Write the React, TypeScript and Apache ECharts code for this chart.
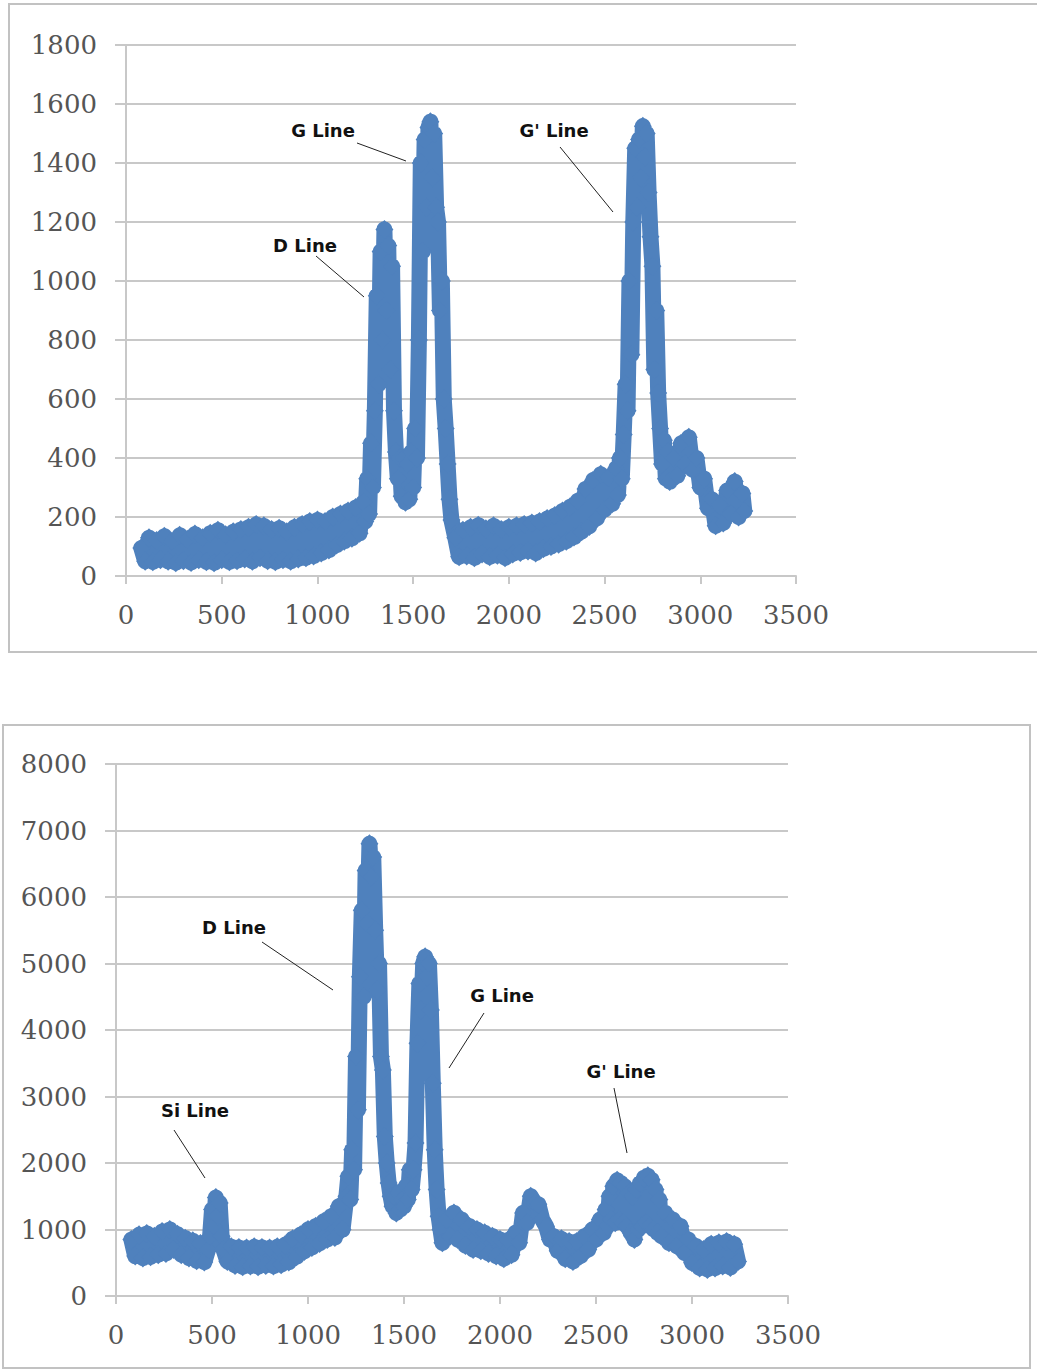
import React, { useEffect, useRef } from "react";
import * as echarts from "echarts";

// Raman spectrum 1: shift (cm-1) and intensity (counts)
const TOP_SHIFT = [
  80, 100, 120, 140, 160, 180, 200, 220, 240, 260,
  280, 300, 320, 340, 360, 380, 400, 420, 440, 460,
  480, 500, 520, 540, 560, 580, 600, 620, 640, 660,
  680, 700, 720, 740, 760, 780, 800, 820, 840, 860,
  880, 900, 920, 940, 960, 980, 1000, 1020, 1040, 1060,
  1080, 1100, 1120, 1140, 1160, 1180, 1200, 1220, 1240, 1250,
  1260, 1270, 1280, 1290, 1300, 1310, 1320, 1330, 1340, 1350,
  1360, 1370, 1380, 1390, 1400, 1410, 1420, 1430, 1440, 1450,
  1460, 1470, 1480, 1490, 1500, 1510, 1520, 1530, 1540, 1550,
  1560, 1570, 1580, 1590, 1600, 1610, 1620, 1630, 1640, 1650,
  1660, 1670, 1680, 1690, 1700, 1720, 1740, 1760, 1780, 1800,
  1820, 1840, 1860, 1880, 1900, 1920, 1940, 1960, 1980, 2000,
  2020, 2040, 2060, 2080, 2100, 2120, 2140, 2160, 2180, 2200,
  2220, 2240, 2260, 2280, 2300, 2320, 2340, 2360, 2380, 2400,
  2420, 2440, 2460, 2480, 2500, 2520, 2540, 2560, 2570, 2580,
  2590, 2600, 2610, 2620, 2630, 2640, 2650, 2660, 2670, 2680,
  2690, 2700, 2710, 2720, 2730, 2740, 2750, 2760, 2770, 2780,
  2790, 2800, 2810, 2820, 2830, 2840, 2860, 2880, 2900, 2920,
  2940, 2960, 2980, 3000, 3020, 3040, 3060, 3080, 3100, 3120,
  3140, 3160, 3180, 3200, 3220, 3230,
];
const TOP_COUNTS = [
  95, 50, 130, 48, 120, 55, 135, 50, 118, 45,
  138, 52, 125, 46, 142, 55, 130, 48, 145, 45,
  155, 55, 140, 48, 150, 52, 158, 58, 165, 50,
  175, 62, 170, 52, 158, 48, 162, 55, 150, 50,
  165, 58, 175, 62, 185, 68, 190, 78, 185, 88,
  200, 105, 210, 118, 220, 128, 232, 145, 250, 185,
  330, 210, 450, 300, 560, 950, 650, 1100, 800, 1175,
  900, 1120, 700, 1050, 560, 420, 330, 400, 270, 400,
  250, 380, 260, 420, 300, 500, 400, 800, 1400, 1100,
  1480, 1250, 1520, 1540, 1350, 1500, 1250, 1200, 900, 1000,
  600, 500, 380, 260, 190, 130, 65, 155, 68, 165,
  62, 172, 75, 160, 65, 170, 70, 158, 62, 165,
  75, 170, 80, 175, 85, 180, 78, 185, 92, 195,
  100, 205, 108, 220, 118, 235, 132, 255, 150, 295,
  168, 325, 195, 345, 225, 335, 245, 365, 275, 400,
  330, 480, 650, 560, 1000, 750, 1200, 1450, 1250, 1480,
  1350, 1525, 1420, 1500, 1300, 1150, 1050, 700, 900, 620,
  500, 380, 460, 330, 420, 320, 400, 340, 450, 380,
  470, 360, 400, 300, 330, 230, 260, 170, 240, 180,
  290, 210, 320, 200, 280, 220,
];

// Raman spectrum 2: shift (cm-1) and intensity (counts)
const BOTTOM_SHIFT = [
  80, 100, 120, 140, 160, 180, 200, 220, 240, 260,
  280, 300, 320, 340, 360, 380, 400, 420, 440, 460,
  480, 490, 500, 510, 520, 530, 540, 550, 560, 580,
  600, 620, 640, 660, 680, 700, 720, 740, 760, 780,
  800, 820, 840, 860, 880, 900, 920, 940, 960, 980,
  1000, 1020, 1040, 1060, 1080, 1100, 1120, 1140, 1160, 1180,
  1200, 1210, 1220, 1230, 1240, 1250, 1260, 1270, 1280, 1290,
  1300, 1310, 1320, 1330, 1340, 1350, 1360, 1370, 1380, 1390,
  1400, 1410, 1420, 1430, 1440, 1450, 1460, 1470, 1480, 1490,
  1500, 1510, 1520, 1530, 1540, 1550, 1560, 1570, 1580, 1590,
  1600, 1610, 1620, 1630, 1640, 1650, 1660, 1670, 1680, 1690,
  1700, 1720, 1740, 1760, 1780, 1800, 1820, 1840, 1860, 1880,
  1900, 1920, 1940, 1960, 1980, 2000, 2020, 2040, 2060, 2080,
  2100, 2120, 2140, 2160, 2180, 2200, 2220, 2240, 2260, 2280,
  2300, 2320, 2340, 2360, 2380, 2400, 2420, 2440, 2460, 2480,
  2500, 2520, 2540, 2550, 2560, 2570, 2580, 2590, 2600, 2610,
  2620, 2630, 2640, 2650, 2660, 2670, 2680, 2690, 2700, 2710,
  2720, 2730, 2740, 2750, 2760, 2770, 2780, 2790, 2800, 2810,
  2820, 2830, 2840, 2860, 2880, 2900, 2920, 2940, 2960, 2980,
  3000, 3020, 3040, 3060, 3080, 3100, 3120, 3140, 3160, 3180,
  3200, 3220, 3240,
];
const BOTTOM_COUNTS = [
  850, 600, 920, 570, 940, 590, 900, 620, 970, 640,
  1000, 700, 930, 620, 870, 570, 830, 530, 790, 510,
  700, 900, 1300, 1050, 1480, 1200, 1400, 900, 700, 520,
  740, 460, 730, 440, 720, 450, 740, 440, 730, 460,
  720, 450, 740, 470, 770, 510, 860, 590, 920, 670,
  1000, 730, 1050, 790, 1120, 850, 1200, 880, 1350, 1000,
  1500, 1800, 1450, 2200, 1900, 3600, 2800, 4800, 5800, 4500,
  6400, 5600, 6800, 6300, 6600, 5500, 4600, 5000, 3600, 3400,
  2400, 2000, 1700, 1500, 1350, 1500, 1250, 1550, 1300, 1450,
  1350, 1650, 1450, 1900, 1600, 1900, 2300, 3800, 4700, 4300,
  5000, 5100, 4800, 5000, 4300, 3200, 2200, 1600, 1200, 1000,
  800, 1150, 900, 1250, 850, 1150, 760, 1050, 700, 1000,
  680, 950, 640, 900, 600, 850, 560, 840, 620, 950,
  800, 1250, 1100, 1500, 1400, 1380, 1150, 1050, 850, 900,
  680, 860, 560, 820, 520, 820, 600, 900, 700, 1000,
  850, 1150, 950, 1300, 1050, 1500, 1150, 1650, 1100, 1740,
  1150, 1700, 1100, 1650, 1050, 1550, 950, 1500, 850, 1600,
  1000, 1700, 1050, 1780, 1100, 1810, 1050, 1750, 1000, 1600,
  950, 1450, 900, 1250, 800, 1150, 750, 1050, 650, 850,
  500, 750, 420, 700, 400, 780, 420, 800, 450, 820,
  430, 780, 520,
];

// Axis ranges and tick steps
const X_MAX = 3500;
const X_STEP = 500;
const TOP_Y_MAX = 1800;
const TOP_Y_STEP = 200;
const BOTTOM_Y_MAX = 8000;
const BOTTOM_Y_STEP = 1000;

const MARKER_BLUE = "#4F81BD";
const GRID_GREY = "#C8C8C8";
const LABEL_GREY = "#555555";
const TICK_FONT = "DejaVu Serif";
const TICK_SIZE = 26;
const NOTE_FONT = 'bold 18px "DejaVu Sans"';

const pairs = (xs: number[], ys: number[]) => xs.map((x, i) => [x, ys[i]]);
const plain = (v: number) => String(v);

const xAxisFor = (gridIndex: number) => ({
  type: "value",
  gridIndex,
  min: 0,
  max: X_MAX,
  interval: X_STEP,
  axisLine: { show: true, onZero: false, lineStyle: { color: GRID_GREY, width: 2 } },
  axisTick: { show: true, inside: false, length: 8, lineStyle: { color: GRID_GREY, width: 2 } },
  splitLine: { show: false },
  axisLabel: { margin: 26, color: LABEL_GREY, fontFamily: TICK_FONT, fontSize: TICK_SIZE, formatter: plain },
});

const yAxisFor = (gridIndex: number, max: number, step: number) => ({
  type: "value",
  gridIndex,
  min: 0,
  max,
  interval: step,
  axisLine: { show: true, lineStyle: { color: GRID_GREY, width: 2 } },
  axisTick: { show: true, inside: false, length: 11, lineStyle: { color: GRID_GREY, width: 2 } },
  splitLine: { show: true, lineStyle: { color: GRID_GREY, width: 2 } },
  axisLabel: { margin: 29, color: LABEL_GREY, fontFamily: TICK_FONT, fontSize: TICK_SIZE, formatter: plain },
});

const spectrumSeries = (index: number, data: number[][]) => ({
  type: "line",
  xAxisIndex: index,
  yAxisIndex: index,
  data,
  symbol: "diamond",
  symbolSize: [18, 19],
  showSymbol: true,
  silent: true,
  itemStyle: { color: MARKER_BLUE },
  lineStyle: { color: MARKER_BLUE, width: 16, cap: "round", join: "round" },
  z: 3,
});

// Peak callouts: label text with a leader line pointing at the band
const note = (text: string, cx: number, cy: number, x1: number, y1: number, x2: number, y2: number) => [
  {
    type: "text",
    x: cx,
    y: cy,
    style: { text, font: NOTE_FONT, fill: "#111111", align: "center", verticalAlign: "middle" },
    z: 10,
  },
  {
    type: "line",
    shape: { x1, y1, x2, y2 },
    style: { stroke: "#222222", lineWidth: 1 },
    z: 10,
  },
];

export default function App() {
  const ref = useRef<HTMLDivElement>(null);

  useEffect(() => {
    if (!ref.current) return;
    const chart = echarts.init(ref.current, undefined, { renderer: "svg" });
    chart.setOption({
      animation: false,
      backgroundColor: "#ffffff",
      grid: [
        { left: 126, top: 45, width: 670, height: 531 },
        { left: 116, top: 764, width: 672, height: 532 },
      ],
      xAxis: [xAxisFor(0), xAxisFor(1)],
      yAxis: [yAxisFor(0, TOP_Y_MAX, TOP_Y_STEP), yAxisFor(1, BOTTOM_Y_MAX, BOTTOM_Y_STEP)],
      series: [
        spectrumSeries(0, pairs(TOP_SHIFT, TOP_COUNTS)),
        spectrumSeries(1, pairs(BOTTOM_SHIFT, BOTTOM_COUNTS)),
      ],
      graphic: [
        {
          type: "rect",
          shape: { x: 9, y: 4, width: 1040, height: 648 },
          style: { fill: "none", stroke: "#C2C2C2", lineWidth: 2 },
          z: 0,
        },
        {
          type: "rect",
          shape: { x: 3, y: 725, width: 1027, height: 643 },
          style: { fill: "none", stroke: "#C2C2C2", lineWidth: 2 },
          z: 0,
        },
        ...note("G Line", 323, 130, 357, 143, 406, 161),
        ...note("D Line", 305, 245, 316, 256, 364, 297),
        ...note("G' Line", 554, 130, 560, 147, 613, 212),
        ...note("D Line", 234, 927, 262, 942, 333, 990),
        ...note("G Line", 502, 995, 484, 1013, 449, 1068),
        ...note("G' Line", 621, 1071, 614, 1088, 627, 1153),
        ...note("Si Line", 195, 1110, 174, 1130, 205, 1178),
      ],
    });
    return () => chart.dispose();
  }, []);

  return (
    <div
      ref={ref}
      style={{ position: "absolute", left: 0, top: 0, width: 1037, height: 1369, background: "#ffffff" }}
    />
  );
}
